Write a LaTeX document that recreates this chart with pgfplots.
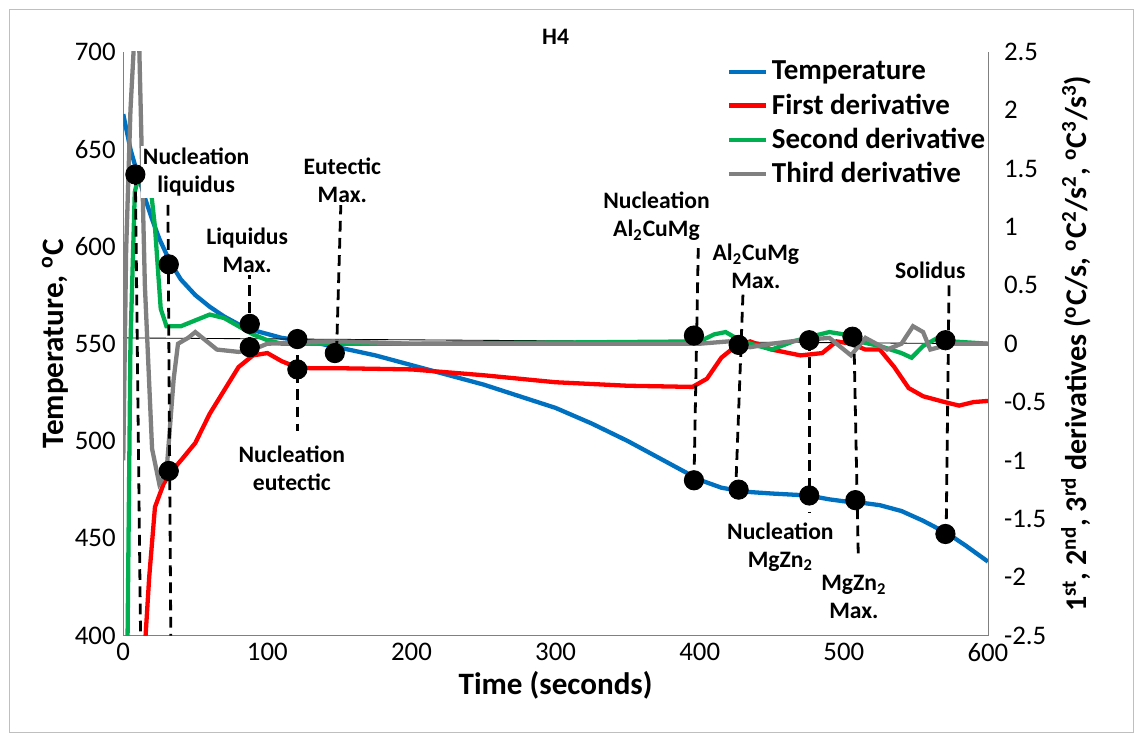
\documentclass[border=0pt]{standalone}
\usepackage{pgfplots}
\pgfplotsset{compat=1.18}
\usepackage{fontspec}
\setmainfont{Carlito}
\definecolor{cT}{RGB}{0,112,192}
\definecolor{cF}{RGB}{255,0,0}
\definecolor{cS}{RGB}{0,176,80}
\definecolor{cG}{RGB}{128,128,128}
\begin{document}
\begin{tikzpicture}
\pgfplotsset{every axis/.append style={scale only axis, width=403pt, height=272pt, xmin=0, xmax=600,
 /pgf/number format/assume math mode=true, tick label style={font=\fontsize{12.5}{14}\selectfont},
 axis line style={gray}, tick style={draw=none}, clip=true}}
\begin{axis}[axis y line*=left, axis x line*=bottom, ymin=400, ymax=700, ytick={400,450,...,700},
 xtick={0,100,...,600}, xlabel={\bfseries Time (seconds)}, ylabel={\bfseries Temperature, \textsuperscript{o}C},
 label style={font=\fontsize{14.5}{16}\selectfont}, ylabel style={yshift=-4pt}, xlabel style={yshift=2pt},
 title={\bfseries H4}, title style={font=\fontsize{11}{13}\selectfont, yshift=-6pt}]
\addplot[cT, line width=2pt] coordinates {(0,668)(5,650)(10,637)(15,625)(20,614)(25,604)(30,596)(35,589)(40,583)(50,575)(60,569)(70,564)(80,560)(90,557)(100,555)(110,553)(120,552)(130,551)(150,548)(175,544)(200,539)(225,534)(250,529)(275,523)(300,517)(325,509)(350,500)(375,490)(400,480)(415,476)(430,474)(450,473)(475,472)(490,470)(500,469)(515,468)(525,467)(540,464)(555,459)(573,452)(585,446)(600,438)};
\end{axis}
\begin{axis}[axis y line*=right, axis x line=none, ymin=-2.5, ymax=2.5, ytick={-2.5,-2,...,2.5},
 yticklabel style={xshift=4pt},
 ylabel={\bfseries 1\textsuperscript{st}, 2\textsuperscript{nd}, 3\textsuperscript{rd} derivatives (\textsuperscript{o}C/s, \textsuperscript{o}C\textsuperscript{2}/s\textsuperscript{2}, \textsuperscript{o}C\textsuperscript{3}/s\textsuperscript{3})},
 label style={font=\fontsize{14}{16}\selectfont},
 legend style={at={(0.69,1.0)}, anchor=north west, draw=none, fill=none, font=\bfseries\fontsize{13.5}{17}\selectfont, row sep=1pt},
 legend cell align=left]
\addlegendimage{cT, line width=2pt}\addlegendentry{Temperature}
\addplot[black, thin, forget plot] coordinates {(0,0.05)(600,0)};
\addplot[cF, line width=2pt] coordinates {(13,-3)(18,-2)(22,-1.4)(28,-1.2)(33,-1.1)(40,-1.0)(50,-0.85)(60,-0.6)(70,-0.4)(80,-0.2)(90,-0.1)(100,-0.08)(110,-0.15)(120,-0.2)(130,-0.21)(150,-0.21)(200,-0.22)(250,-0.27)(300,-0.33)(350,-0.36)(395,-0.37)(405,-0.3)(415,-0.12)(425,-0.02)(435,0.02)(450,-0.05)(470,-0.1)(485,-0.08)(495,0.02)(505,0)(515,-0.05)(525,-0.05)(535,-0.2)(545,-0.38)(555,-0.45)(570,-0.5)(580,-0.53)(590,-0.5)(600,-0.49)};
\addlegendentry{First derivative}
\addplot[cS, line width=2pt] coordinates {(0,-3)(3,-2.5)(5,0)(8,1.3)(12,1.5)(18,1.45)(22,1.0)(26,0.3)(30,0.15)(40,0.15)(50,0.2)(60,0.25)(70,0.22)(80,0.15)(90,0.08)(100,0.03)(110,0.0)(130,0)(200,0)(400,0.02)(410,0.08)(418,0.1)(425,0.05)(435,0)(450,-0.05)(465,0.02)(480,0.07)(490,0.1)(500,0.08)(510,0.02)(525,-0.02)(540,-0.08)(547,-0.12)(555,-0.02)(565,0.05)(575,0.02)(600,0)};
\addlegendentry{Second derivative}
\addplot[cG, line width=2pt] coordinates {(0,-1)(2,0.8)(5,2.0)(8,2.7)(11,2.6)(15,0.5)(20,-0.9)(25,-1.2)(30,-1.1)(35,-0.3)(38,0)(45,0.05)(50,0.1)(55,0.05)(65,-0.05)(80,-0.07)(90,-0.05)(100,0)(150,0.02)(200,0)(400,0)(420,0.02)(435,-0.03)(450,0)(470,0.03)(490,0.05)(500,-0.05)(505,-0.1)(515,0.05)(530,-0.05)(540,0)(548,0.15)(555,0.1)(560,-0.05)(575,0)(600,0)};
\addlegendentry{Third derivative}
\pgfplotsset{dl/.style={black, line width=1.3pt, dash pattern=on 5pt off 3pt, forget plot}}
\addplot[dl] coordinates {(8.4,1.45)(12,-2.5)};
\addplot[dl] coordinates {(31,1.19)(33,-2.5)};
\addplot[dl] coordinates {(87.8,0.65)(87.8,-0.05)};
\addplot[dl] coordinates {(121,0.05)(121,-0.75)};
\addplot[dl] coordinates {(151,1.2)(148,-0.08)};
\addplot[dl] coordinates {(399,0.82)(396,-1.2)};
\addplot[dl] coordinates {(430,0.42)(425,-1.25)};
\addplot[dl] coordinates {(476,0.03)(476,-1.45)};
\addplot[dl] coordinates {(507,0.06)(510,-1.8)};
\addplot[dl] coordinates {(573,0.5)(571,-1.65)};
\addplot[only marks, mark=*, mark size=4.5pt, black, forget plot] coordinates {(8.4,1.45)(31.6,0.68)(31.6,-1.09)(87.8,0.17)(87.8,-0.03)(120.8,0.04)(120.8,-0.22)(146.8,-0.08)(396,0.07)(396,-1.17)(427,-0.01)(427,-1.25)(476,0.03)(476,-1.30)(506,0.06)(508,-1.34)(570.5,0.03)(570.5,-1.63)};
\tikzset{lb/.style={font=\bfseries\fontsize{11}{13}\selectfont, align=center, fill=white, inner sep=1pt}}
\node[lb] at (axis cs:50.6,1.47) {Nucleation\\liquidus};
\node[lb] at (axis cs:86,0.8) {Liquidus\\Max.};
\node[lb] at (axis cs:152,1.4) {Eutectic\\Max.};
\node[lb] at (axis cs:117,-1.07) {Nucleation\\eutectic};
\node[lb] at (axis cs:370,1.09) {Nucleation\\Al\textsubscript{2}CuMg};
\node[lb] at (axis cs:439,0.66) {Al\textsubscript{2}CuMg\\Max.};
\node[lb] at (axis cs:456,-1.74) {Nucleation\\MgZn\textsubscript{2}};
\node[lb] at (axis cs:507,-2.17) {MgZn\textsubscript{2}\\Max.};
\node[lb] at (axis cs:560,0.63) {Solidus};
\end{axis}
\draw[gray!50] ([shift={(-12pt,-12pt)}]current bounding box.south west) rectangle ([shift={(16pt,6pt)}]current bounding box.north east);
\path ([shift={(-4pt,-4pt)}]current bounding box.south west) rectangle ([shift={(4pt,4pt)}]current bounding box.north east);
\end{tikzpicture}
\end{document}
